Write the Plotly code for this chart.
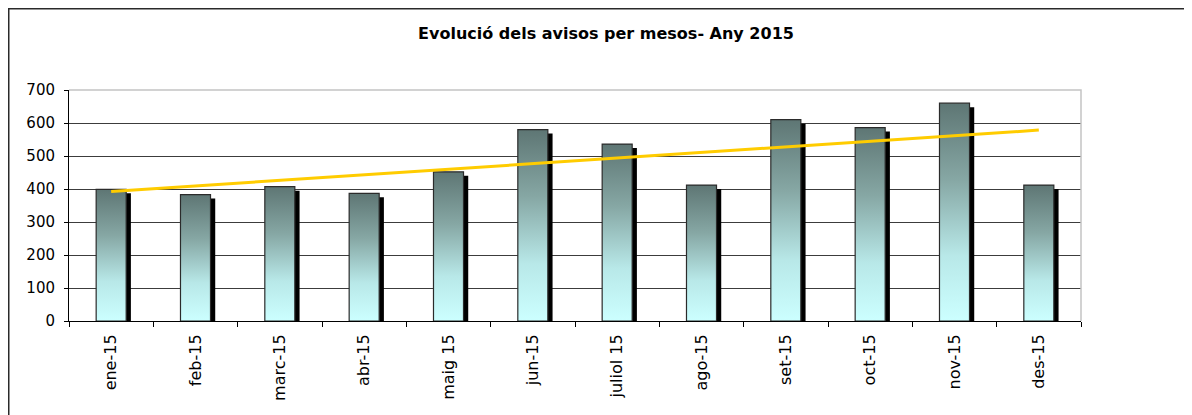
import numpy as np
import plotly.graph_objects as go

months = ["ene-15", "feb-15", "marc-15", "abr-15", "maig 15", "jun-15",
          "juliol 15", "ago-15", "set-15", "oct-15", "nov-15", "des-15"]
avisos = [399, 383, 407, 387, 452, 580, 536, 412, 610, 586, 660, 412]
y_ticks = [0, 100, 200, 300, 400, 500, 600, 700]
title = "Evolució dels avisos per mesos- Any 2015"

FONT = "DejaVu Sans, Liberation Sans, Arial, sans-serif"
pos = np.arange(1, len(months) + 1)
half = 0.178          # half bar width in category units
shadow_dx = 0.056     # shadow shift (category units)
shadow_dy = 12        # shadow shift (value units)

# figure geometry (page has 8px body margin)
W, H = 1184, 407
L, R, T, B = 61, 111, 82, 94
PW, PH = W - L - R, H - T - B

fig = go.Figure()

# shadows
fig.add_trace(go.Bar(
    x=pos, y=[v - shadow_dy for v in avisos], width=2 * half,
    offset=-half + shadow_dx, marker=dict(color="black", line=dict(width=0)),
    hoverinfo="skip", showlegend=False))

grad = [[0, "#ccffff"], [0.3, "#b8e8e8"], [0.65, "#86a7a4"], [1, "#5e7674"]]
for p, v in zip(pos, avisos):
    fig.add_trace(go.Scatter(
        x=[p - half, p + half, p + half, p - half, p - half],
        y=[0, 0, v, v, 0], mode="lines", fill="toself",
        fillgradient=dict(type="vertical", colorscale=grad, start=0, stop=v),
        line=dict(color="#2b2b2b", width=1.2),
        hoverinfo="skip", showlegend=False))

# linear trendline
k, b = np.polyfit(pos, avisos, 1)
fig.add_trace(go.Scatter(
    x=[pos[0], pos[-1]], y=[k * pos[0] + b, k * pos[-1] + b], mode="lines",
    line=dict(color="#ffcc00", width=3), hoverinfo="skip", showlegend=False))

fig.update_layout(
    width=W, height=H,
    margin=dict(l=L, r=R, t=T, b=B),
    paper_bgcolor="white", plot_bgcolor="white",
    barmode="overlay",
    showlegend=False,
    title=dict(text="<b>" + title + "</b>", xref="container", x=598 / W,
               xanchor="center", yref="container", y=1 - 25 / H, yanchor="middle",
               font=dict(family=FONT, size=16, color="black")),
    font=dict(family=FONT, size=15, color="black"),
)

fig.update_xaxes(
    range=[0.5, len(months) + 0.5], tickmode="array", tickvals=pos, ticktext=months,
    tickangle=-90, ticks="outside", ticklen=6, tickcolor="rgba(0,0,0,0)",
    showline=True, linecolor="black", linewidth=1, showgrid=False, zeroline=False,
    minor=dict(tickmode="array", tickvals=list(np.arange(0.5, len(months) + 1, 1.0)),
               ticks="outside", ticklen=5, tickcolor="black", tickwidth=1, showgrid=False),
    tickfont=dict(family=FONT, size=16, color="black"), fixedrange=True)

fig.update_yaxes(
    range=[0, 700], tickmode="array", tickvals=y_ticks,
    ticks="outside", ticklen=4, tickcolor="black", ticklabelstandoff=6,
    showline=True, linecolor="black", linewidth=1,
    showgrid=True, gridcolor="#3c3c3c", gridwidth=1, zeroline=False,
    tickfont=dict(family=FONT, size=15, color="black"), fixedrange=True)

# plot area light border (top and right)
fig.add_shape(type="path", xref="paper", yref="paper",
              path="M 0 1 L 1 1 L 1 0", line=dict(color="#c4c4c4", width=1.5),
              layer="above")
# outer chart border (top and left visible)
x_left = (0.75 - L) / PW
y_top = (T + PH - 0.75) / PH
y_bot = -(B + 10) / PH
fig.add_shape(type="path", xref="paper", yref="paper",
              path=f"M {x_left} {y_bot} L {x_left} {y_top} L 1.2 {y_top}",
              line=dict(color="#2a2a2a", width=1.5), layer="above")

fig.write_html("out.html")
